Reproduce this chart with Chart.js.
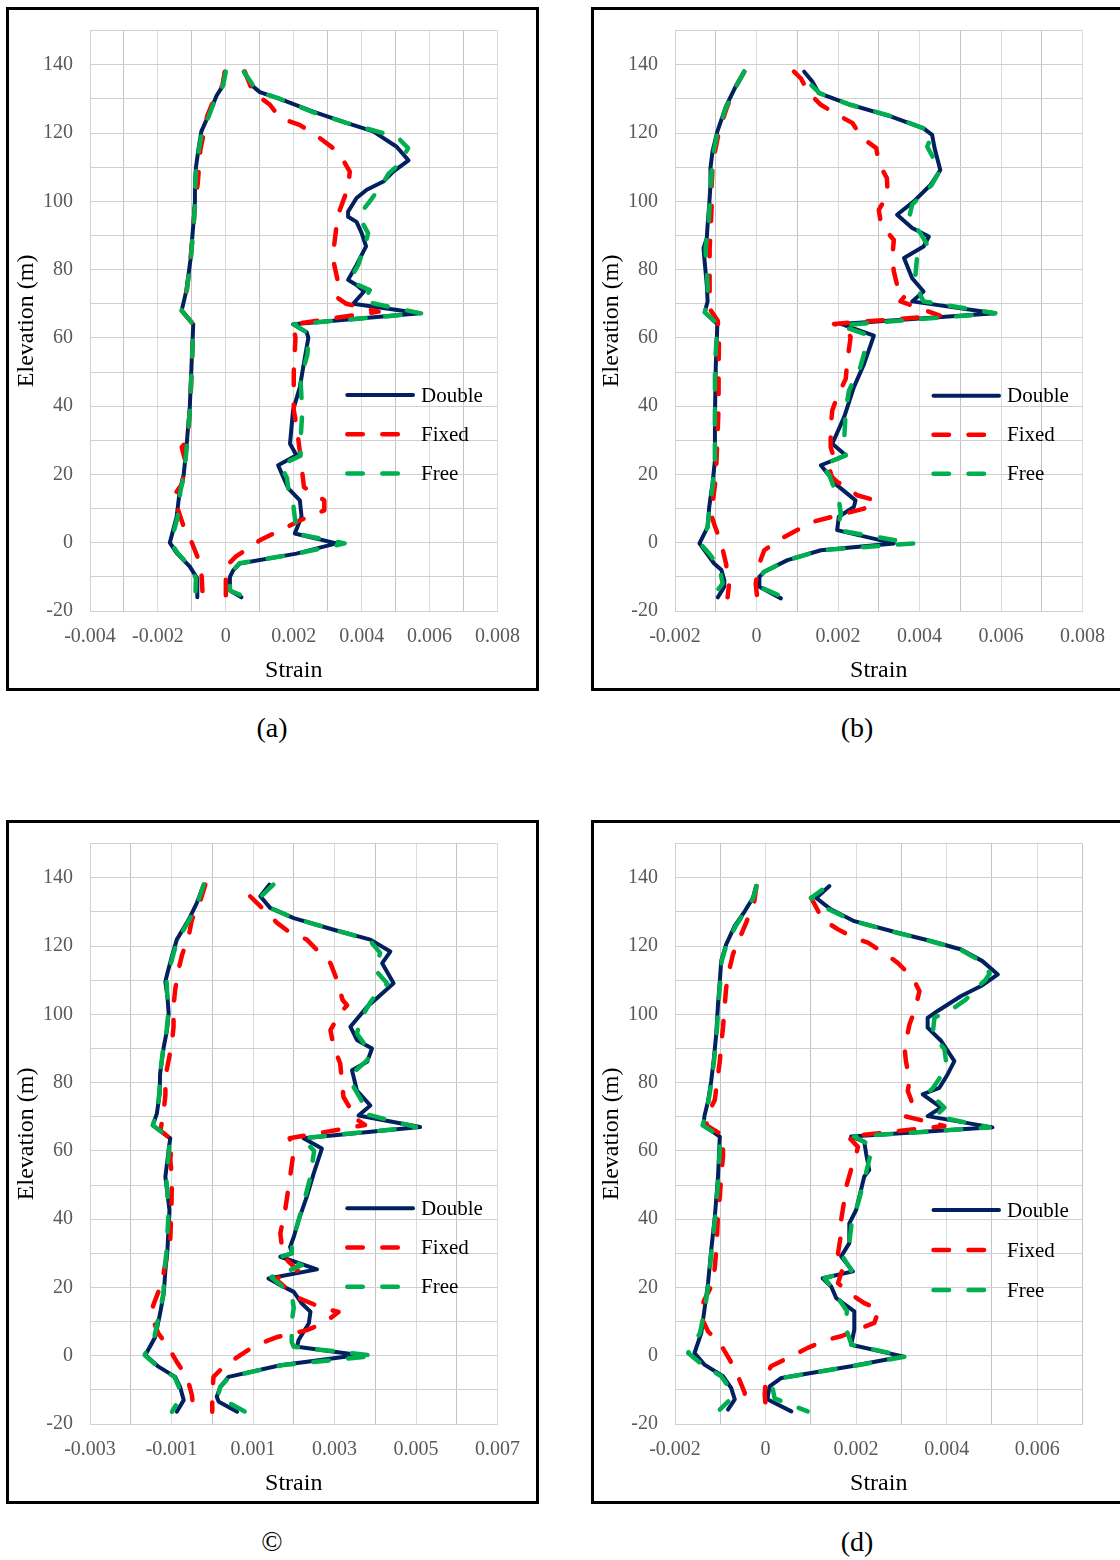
<!DOCTYPE html>
<html>
<head>
<meta charset="utf-8">
<title>Strain profiles</title>
<script src="https://cdn.jsdelivr.net/npm/chart.js@4.4.1/dist/chart.umd.min.js"></script>
<style>
  html, body { margin: 0; padding: 0; background: #fff; }
  body { width: 1120px; height: 1560px; position: relative; overflow: hidden;
         font-family: "Liberation Serif", "Times New Roman", serif; }
  .frame { position: absolute; border: 3px solid #000; width: 527px; height: 678px; background: #fff; }
  .frame canvas { display: block; }
  .cap { position: absolute; width: 120px; margin-left: -60px; text-align: center;
         font-size: 28px; line-height: 28px; color: #000; }
</style>
</head>
<body>
<div class="frame" style="left:6px;top:7px"><canvas id="pa" width="527" height="678"></canvas></div>
<div class="frame" style="left:591px;top:7px"><canvas id="pb" width="527" height="678"></canvas></div>
<div class="frame" style="left:6px;top:820px"><canvas id="pc" width="527" height="678"></canvas></div>
<div class="frame" style="left:591px;top:820px"><canvas id="pd" width="527" height="678"></canvas></div>
<div class="cap" style="left:272px;top:714px">(a)</div>
<div class="cap" style="left:857px;top:714px">(b)</div>
<div class="cap" style="left:272px;top:1528px">©</div>
<div class="cap" style="left:857px;top:1528px">(d)</div>

<script>
// ---- series and tick labels -------------------------------------------
const SERIES_NAMES = ['Double', 'Fixed', 'Free'];
const Y_TICK_LABELS = ['-20', '0', '20', '40', '60', '80', '100', '120', '140'];
const X_TICK_LABELS_A = ['-0.004', '-0.002', '0', '0.002', '0.004', '0.006', '0.008'];
const X_TICK_LABELS_B = ['-0.002', '0', '0.002', '0.004', '0.006', '0.008'];
const X_TICK_LABELS_C = ['-0.003', '-0.001', '0.001', '0.003', '0.005', '0.007'];
const X_TICK_LABELS_D = ['-0.002', '0', '0.002', '0.004', '0.006'];

// Strain envelopes: each entry is [elevation (m), strain x 10^-3].
// "L" = compressive (left) envelope, "R" = tensile (right) envelope.

// (a)
const aDoubleL = [[138,-0.03],[134,-0.08],[131,-0.27],[125,-0.52],[120.5,-0.72],[115,-0.81],[110,-0.88],[105,-0.91],[100,-0.91],[93,-0.96],[83,-1.04],[74,-1.16],[68,-1.30],[64,-0.96],[52,-1.01],[40,-1.06],[28,-1.16],[20,-1.24],[15,-1.36],[7.5,-1.45],[0,-1.65],[-3,-1.45],[-7,-1.06],[-10.5,-0.84],[-16,-0.84]];
const aDoubleR = [[138,0.53],[134,0.76],[132,1.0],[130,1.59],[126.3,2.57],[123,3.55],[120.5,4.34],[116,5.03],[112,5.38],[108.7,4.93],[105.8,4.64],[103.4,4.15],[101,3.85],[97,3.6],[95.5,3.6],[94,3.85],[90.7,4.0],[86.8,4.13],[81.4,3.85],[77,3.6],[75.5,3.85],[73.6,4.07],[70,3.75],[67.2,5.72],[64,1.98],[61.7,2.38],[60,2.43],[51.5,2.28],[45.6,2.18],[38.8,1.98],[29,1.89],[25.6,2.08],[22.7,1.54],[19.3,1.69],[15.9,1.84],[12.4,2.18],[7.6,2.23],[2.7,2.03],[-0.2,3.26],[-3.2,2.08],[-6.1,0.41],[-8,0.22],[-10,0.12],[-14,0.12],[-16,0.46]];
const aFixedL = [[138,-0.03],[134,-0.1],[131,-0.3],[125,-0.55],[120,-0.65],[115,-0.75],[110,-0.79],[105,-0.83],[100,-0.9],[93,-0.95],[83,-1.04],[74,-1.15],[68,-1.3],[64,-0.96],[52,-1.0],[40,-1.05],[30,-1.12],[28,-1.3],[23,-1.17],[17,-1.3],[14,-1.52],[10,-1.42],[5,-1.25],[0,-1.0],[-5,-0.8],[-10,-0.71],[-16,-0.68]];
const aFixedR = [[138,0.56],[132,0.8],[128.3,1.3],[124.4,1.6],[122.4,2.17],[120,2.57],[115.6,3.16],[113,3.4],[108.7,3.65],[104,3.6],[96,3.3],[88,3.2],[83.4,3.15],[76.5,3.3],[71.7,3.3],[70,3.55],[67.7,4.5],[64,1.98],[60,2.05],[50,2.0],[39,2.0],[33,2.1],[25,2.2],[16.3,2.3],[12.4,2.9],[9.5,2.9],[6.6,2.2],[0.7,1.0],[-4,0.3],[-7,0.0],[-16,0.0]];
const aFreeL = [[138,0.0],[134,-0.08],[131,-0.27],[125,-0.5],[120.5,-0.7],[115,-0.8],[110,-0.87],[105,-0.9],[100,-0.9],[93,-0.95],[83,-1.03],[74,-1.15],[68,-1.3],[64,-0.96],[52,-1.0],[40,-1.05],[28,-1.15],[20,-1.23],[15,-1.34],[7.5,-1.42],[0,-1.62],[-3,-1.42],[-7,-1.05],[-10.5,-0.88],[-16,-0.9]];
const aFreeR = [[138,0.53],[134,0.8],[132,1.0],[130,1.6],[126,2.6],[123,3.55],[120.5,4.45],[119,5.03],[115.6,5.37],[110.7,5.08],[108.2,4.8],[104.8,4.59],[100,4.24],[97,4.0],[95,3.95],[90.7,4.19],[87,4.1],[81.4,3.9],[77,3.65],[75.5,3.9],[74,4.24],[70.7,4.05],[67.2,5.75],[64,2.0],[61.2,2.45],[55,2.4],[48,2.2],[38,2.25],[30,2.2],[25.5,2.2],[22.7,1.6],[19,1.8],[15,1.85],[11.5,1.98],[6,2.05],[2.7,2.05],[-0.2,3.5],[-3.2,2.1],[-6,0.4],[-8,0.22],[-10,0.12],[-14,0.12],[-16,0.6]];

// (b)
const bDoubleL = [[138,-0.3],[133.7,-0.51],[127.8,-0.75],[120.5,-0.96],[114.6,-1.08],[109.7,-1.13],[104.8,-1.13],[99,-1.16],[93.1,-1.2],[89.2,-1.22],[86.3,-1.3],[83.4,-1.28],[75.6,-1.22],[70.7,-1.2],[67.5,-1.27],[64.1,-0.96],[51.5,-1.0],[36.8,-1.02],[24.1,-1.02],[17.3,-1.08],[10.5,-1.16],[4.6,-1.2],[-0.2,-1.4],[-6.1,-1.04],[-8,-0.86],[-11,-0.79],[-12.9,-0.79],[-16,-0.95]];
const bDoubleR = [[138,1.17],[135.1,1.37],[131.7,1.53],[128.3,2.31],[124.9,3.29],[121.4,4.1],[119.5,4.31],[115.6,4.37],[109.2,4.51],[104.8,4.27],[100,3.86],[96.1,3.45],[92.2,3.82],[89.7,4.23],[86.8,4.1],[83.4,3.62],[77.5,3.82],[73.6,4.1],[70.7,3.82],[67.2,5.86],[64.1,2.07],[60.7,2.88],[52.4,2.64],[45.6,2.39],[36.8,2.15],[29,1.86],[25.6,2.19],[22.7,1.58],[16.8,1.98],[12.4,2.43],[10.5,2.39],[7.6,2.02],[3.7,1.98],[-0.2,3.37],[-2.2,1.58],[-5.1,0.76],[-8.5,0.19],[-10,0.07],[-12.9,0.07],[-16.3,0.6]];
const bFixedL = [[138,-0.3],[133.7,-0.5],[127.8,-0.72],[120.5,-0.92],[114.6,-1.02],[109.7,-1.08],[104.8,-1.1],[99,-1.1],[93.1,-1.12],[86,-1.15],[80,-1.15],[72,-1.15],[68,-1.12],[65,-0.95],[60,-0.92],[50,-0.93],[40,-0.93],[30,-0.96],[19,-1.0],[14,-1.05],[8.5,-1.12],[5.5,-1.04],[0,-0.87],[-6,-0.75],[-12,-0.67],[-16,-0.71]];
const bFixedR = [[138,0.92],[136,1.09],[131.7,1.29],[128.3,1.58],[125.4,1.98],[123,2.35],[118.5,2.6],[115.6,2.94],[111.2,3.0],[106.8,3.2],[101.9,3.22],[97.5,3.0],[93.1,3.06],[88.7,3.37],[83.4,3.33],[79.5,3.37],[75.5,3.45],[73.1,3.7],[70.7,3.53],[69.2,3.9],[66.5,4.5],[64.1,1.9],[62.7,2.19],[60.2,2.31],[53.4,2.23],[48,2.19],[42.7,1.98],[38.8,1.86],[33.9,1.82],[28,1.82],[25,1.9],[21.2,1.8],[19.3,1.85],[17.8,1.98],[16.8,2.15],[13.9,2.47],[12.4,2.92],[10,2.64],[6.1,1.37],[3.7,1.0],[1.2,0.6],[-2.2,0.19],[-6.1,0.07],[-12,-0.02],[-16.3,0.02]];
const bFreeL = [[138,-0.3],[133.7,-0.5],[127.8,-0.74],[120.5,-0.95],[114.6,-1.05],[109.7,-1.1],[104.8,-1.12],[99,-1.15],[93.1,-1.18],[89.2,-1.22],[86.3,-1.25],[83.4,-1.24],[75.6,-1.2],[70.7,-1.2],[67.5,-1.27],[64.1,-0.96],[51.5,-1.02],[36.8,-1.02],[24.1,-1.02],[17.3,-1.07],[10.5,-1.15],[4.6,-1.2],[-0.2,-1.38],[-3.2,-1.16],[-7.1,-0.91],[-12,-0.83],[-16.3,-1.12]];
const bFreeR = [[134,1.35],[131.7,1.55],[128.3,2.3],[125,3.3],[121.4,4.1],[119.5,4.3],[116,4.19],[111.6,4.39],[109,4.5],[104.8,4.3],[99,3.82],[95,3.74],[90.7,4.02],[87.3,4.19],[83.6,3.94],[78.5,3.9],[72.6,4.02],[70.7,4.1],[67.2,5.86],[63.7,2.07],[62.7,2.27],[61.2,2.64],[55.4,2.64],[51.5,2.55],[44.6,2.27],[38.8,2.19],[30,2.15],[25.6,2.19],[22.7,1.6],[20,1.78],[12.4,2.02],[8.5,2.07],[3.7,1.98],[-0.2,3.86],[-2.2,1.6],[-5.1,0.76],[-8.5,0.19],[-10,0.07],[-12.9,0.07],[-16.3,0.72]];

// (c)
const cDoubleL = [[138,-0.21],[132.6,-0.38],[127.7,-0.58],[121.9,-0.87],[117,-0.99],[112.1,-1.1],[109.6,-1.15],[105.2,-1.1],[100.3,-1.07],[95.4,-1.11],[90.5,-1.19],[82.6,-1.28],[76.8,-1.29],[70.9,-1.36],[67.5,-1.46],[63.7,-1.03],[61.2,-1.06],[52.4,-1.15],[42.7,-1.05],[30.9,-1.1],[25,-1.15],[18.2,-1.19],[12.4,-1.28],[5.5,-1.4],[0.2,-1.64],[-3.2,-1.32],[-6.2,-0.91],[-9.1,-0.79],[-13,-0.7],[-16.4,-0.87]];
const cDoubleR = [[138,1.4],[134.6,1.18],[131.2,1.42],[128.2,2.0],[124.8,2.98],[121.9,3.88],[118.4,4.37],[115,4.17],[109.1,4.45],[104.7,4.04],[102.2,3.8],[96.4,3.39],[92.5,3.55],[90,3.92],[86.1,3.8],[83.6,3.43],[77.7,3.55],[73.3,3.88],[70.4,3.59],[67,5.1],[63.7,2.24],[60.7,2.69],[53.4,2.49],[46.6,2.32],[39.7,2.12],[34.8,2.0],[31.9,1.91],[30,1.96],[29,1.67],[25.3,2.57],[22.6,1.38],[21.2,1.59],[18.7,2.0],[15.3,2.2],[12.9,2.41],[9.5,2.37],[4.6,2.12],[2.6,2.08],[0.2,3.59],[-2.8,1.67],[-6.2,0.4],[-9.1,0.2],[-12,0.11],[-13.5,0.16],[-16.4,0.61]];
const cFixedL = [[138,-0.17],[133,-0.3],[127.7,-0.5],[122.8,-0.58],[117.5,-0.74],[113,-0.83],[107.2,-0.91],[102.3,-0.95],[96.4,-0.95],[91.5,-0.99],[86.6,-1.07],[81.7,-1.15],[76.3,-1.15],[70.9,-1.2],[66,-1.27],[63.2,-0.99],[57.3,-1.03],[52.4,-0.99],[44,-1.0],[34,-1.03],[27,-1.15],[21.2,-1.24],[16.3,-1.4],[12.4,-1.52],[6.5,-1.32],[3.1,-1.11],[-1.8,-0.87],[-6.2,-0.62],[-11.5,-0.5],[-16,-0.46]];
const cFixedR = [[134.6,0.93],[131.2,1.22],[126.8,1.59],[124.3,1.87],[121.9,2.32],[118.4,2.61],[115,2.9],[110.1,3.06],[104.2,3.2],[102.7,3.31],[100.5,3.15],[95.4,2.9],[90.5,2.98],[85.6,3.14],[80.7,3.18],[75.8,3.22],[72.4,3.39],[70.4,3.39],[67.6,3.75],[63.7,1.9],[60,2.0],[52.4,1.91],[42.7,1.79],[35.8,1.67],[31.9,1.71],[29,1.75],[25,2.1],[22.5,1.55],[20,1.8],[17,2.1],[14,2.7],[12.8,3.1],[9.5,2.73],[7.5,2.32],[5.5,1.6],[3,1.06],[0.2,0.69],[-3.2,0.28],[-6.2,0.03],[-11.5,0.0],[-16.4,0.0]];
const cFreeL = [[138,-0.21],[132.6,-0.36],[127.7,-0.56],[121.9,-0.85],[117,-0.97],[112.1,-1.08],[109.6,-1.12],[105.2,-1.1],[100.3,-1.08],[95.4,-1.12],[90.5,-1.2],[82.6,-1.28],[76.8,-1.3],[70.9,-1.36],[67.5,-1.46],[63.7,-1.03],[52.4,-1.13],[42.7,-1.07],[30.9,-1.12],[25,-1.17],[18.2,-1.2],[12.4,-1.3],[5.5,-1.42],[0.2,-1.66],[-3.2,-1.34],[-6.2,-0.93],[-9.1,-0.82],[-12.5,-0.79],[-16.4,-0.99]];
const cFreeR = [[138,1.5],[134.6,1.2],[131.2,1.42],[128.2,2.0],[124.8,2.98],[121.9,3.85],[118,4.12],[113,4.0],[109,4.3],[106.8,4.08],[103.5,3.88],[99.3,3.67],[94.4,3.55],[91,3.75],[88,3.9],[86,3.75],[82.6,3.43],[78.7,3.47],[74,3.7],[71,3.7],[67,5.0],[63.7,2.2],[60,2.5],[52,2.4],[45,2.25],[39,2.1],[33,1.96],[30,1.95],[29,1.7],[26.5,2.2],[23,1.45],[21,1.65],[18,1.95],[14,2.0],[10,1.95],[4,1.95],[2.6,2.0],[0,4.0],[-2.8,1.7],[-6.2,0.42],[-9.1,0.2],[-12,0.13],[-16.4,0.81]];

// (d)
const dDoubleL = [[137.6,-0.21],[134.1,-0.28],[130.2,-0.46],[125.9,-0.68],[120.5,-0.87],[115.6,-0.98],[109.8,-1.01],[102.9,-1.05],[94.1,-1.09],[87.3,-1.14],[80.5,-1.2],[74.6,-1.27],[70.2,-1.35],[67.5,-1.37],[64.2,-1.01],[52.5,-1.05],[40.8,-1.12],[31,-1.2],[21.3,-1.27],[13.5,-1.35],[6.6,-1.42],[0.8,-1.57],[-2.6,-1.35],[-6,-0.94],[-9.4,-0.76],[-12.8,-0.68],[-15.8,-0.83]];
const dDoubleR = [[137.6,1.41],[134.1,1.12],[130.7,1.45],[127.3,1.96],[123.9,2.92],[121.5,3.65],[119,4.32],[115.6,4.79],[111.7,5.13],[108.3,4.76],[105.4,4.32],[101,3.8],[99,3.58],[96.1,3.58],[92.2,3.88],[86.3,4.17],[82.4,4.02],[78.5,3.84],[76.6,3.47],[72.7,3.88],[70.2,3.58],[66.9,5.01],[64.2,1.89],[62.7,2.18],[59.3,2.22],[54.4,2.29],[52.5,2.18],[42.7,2.0],[38.8,1.85],[33,1.85],[29.1,1.67],[24.7,1.93],[22.7,1.26],[20.3,1.45],[16.9,1.56],[13,1.96],[7.6,1.96],[3.2,1.89],[-0.2,3.03],[-3.1,1.89],[-6.5,0.35],[-9,0.09],[-11.9,0.05],[-12.8,0.05],[-16.3,0.57]];
const dFixedL = [[137.6,-0.2],[133,-0.25],[126.8,-0.43],[122.4,-0.57],[117.6,-0.72],[113.7,-0.79],[107.8,-0.87],[102.9,-0.9],[96.1,-0.94],[91.2,-0.98],[86.3,-1.01],[82.4,-1.05],[75,-1.12],[70,-1.3],[67.5,-1.3],[64.5,-0.94],[58.3,-0.94],[52.5,-0.98],[46.6,-1.01],[41.7,-1.05],[32,-1.08],[26.1,-1.12],[21.3,-1.16],[16.4,-1.35],[12.5,-1.46],[7.1,-1.27],[3.7,-1.01],[-1.2,-0.79],[-6,-0.61],[-10.9,-0.46],[-15.8,-0.5]];
const dFixedR = [[134.1,1.01],[127.8,1.26],[124.9,1.6],[122.4,1.96],[121,2.26],[117.6,2.66],[115.1,2.92],[110.7,3.25],[106.8,3.4],[101,3.29],[97.1,3.18],[90.2,3.07],[86.3,3.1],[80.5,3.18],[77.6,3.14],[73.7,3.25],[70.2,3.07],[68.3,3.65],[67.3,3.95],[64.2,1.82],[61.2,2.04],[58.8,2.0],[56.4,1.93],[49.5,1.78],[45.6,1.74],[39.8,1.67],[35.9,1.67],[30,1.6],[27,1.74],[21.3,1.6],[18.8,1.8],[15.4,2.18],[13.5,2.51],[9.6,2.4],[8.1,2.11],[5.7,1.67],[4.7,1.37],[2.3,0.93],[0.3,0.64],[-3.1,0.12],[-6,0.01],[-11.4,-0.02],[-15.8,0.01]];
const dFreeL = [[137.6,-0.2],[134.1,-0.27],[130.2,-0.45],[125.9,-0.66],[120.5,-0.86],[115.6,-0.97],[109.8,-1.0],[102.9,-1.04],[94.1,-1.08],[87.3,-1.13],[80.5,-1.19],[74.6,-1.26],[70.2,-1.33],[67.5,-1.39],[64.2,-1.0],[52.5,-1.04],[40.8,-1.11],[31,-1.19],[21.3,-1.26],[13.5,-1.34],[6.6,-1.45],[0.8,-1.71],[-2.6,-1.4],[-6,-0.98],[-9.4,-0.8],[-12.8,-0.78],[-15.8,-1.01]];
const dFreeR = [[136.5,1.25],[134.1,1.0],[130.7,1.4],[127.3,1.95],[123.9,2.9],[121.5,3.63],[119,4.3],[115.6,4.75],[112,4.95],[110,4.85],[107,4.6],[104.4,4.43],[102,4.17],[99,3.73],[94.1,3.69],[89.8,3.95],[85.9,3.99],[82.4,3.9],[78.5,3.7],[76.6,3.55],[74.6,3.8],[72.7,3.95],[70.2,3.75],[66.9,4.95],[64.2,1.95],[61.5,2.35],[58,2.3],[52.5,2.2],[45,2.05],[38.8,1.9],[33,1.85],[29.1,1.7],[25,1.9],[22.7,1.3],[20.3,1.45],[16.9,1.6],[13,1.8],[9,1.75],[3.2,1.9],[-0.2,3.1],[-3.1,1.9],[-6.5,0.37],[-9,0.15],[-12.5,0.2],[-16.3,0.93]];

// ---- drawing ------------------------------------------------------------
const SERIF = '"Liberation Serif", "Times New Roman", serif';
Chart.defaults.font.family = SERIF;

const STYLE = {
  Double: { color: '#002060', width: 4,   dash: [],           order: 3 },
  Fixed:  { color: '#ff0000', width: 4.5, dash: [15.5, 19.5], order: 2 },
  Free:   { color: '#00b050', width: 4.5, dash: [15.5, 19.5], order: 1 }
};

const toPoints = pairs => pairs.map(([elev, ms]) => ({ x: ms / 1000, y: elev }));

// Series key drawn inside the plot, one row per series.
const seriesKey = {
  id: 'seriesKey',
  afterDraw(chart, args, opts) {
    const ctx = chart.ctx;
    ctx.save();
    SERIES_NAMES.forEach((name, i) => {
      const ds = chart.data.datasets.find(d => d.label === name && d.keyEntry);
      const y = opts.y0 + i * opts.gap;
      ctx.strokeStyle = ds.borderColor;
      ctx.lineWidth = ds.borderWidth;
      ctx.lineCap = 'round';
      ctx.setLineDash(ds.borderDash);
      ctx.beginPath();
      ctx.moveTo(opts.x0, y);
      ctx.lineTo(opts.x1, y);
      ctx.stroke();
      ctx.setLineDash([]);
      ctx.fillStyle = '#000';
      ctx.font = '21px ' + SERIF;
      ctx.textBaseline = 'middle';
      ctx.textAlign = 'left';
      ctx.fillText(name, opts.x1 + 8, y + 1);
    });
    ctx.restore();
  }
};

function buildPanel(id, xMin, xMax, xLabels, profiles, key) {
  const datasets = [];
  SERIES_NAMES.forEach(name => {
    const st = STYLE[name];
    profiles[name].forEach((branch, bi) => {
      datasets.push({
        label: name,
        keyEntry: bi === 0,
        data: toPoints(branch),
        showLine: true,
        borderColor: st.color,
        backgroundColor: st.color,
        borderWidth: st.width,
        borderDash: st.dash,
        borderCapStyle: 'round',
        borderJoinStyle: 'round',
        pointRadius: 0,
        pointHoverRadius: 0,
        tension: 0,
        fill: false,
        order: st.order
      });
    });
  });

  const xLabelFor = v => {
    const r = Math.round(v * 1e6) / 1e6;
    const hit = xLabels.find(l => Number(l) === r);
    return hit === undefined ? '' : hit;
  };
  const yLabelFor = v => {
    const hit = Y_TICK_LABELS.find(l => Number(l) === Math.round(v));
    return hit === undefined ? '' : hit;
  };

  new Chart(document.getElementById(id), {
    type: 'scatter',
    data: { datasets },
    plugins: [seriesKey],
    options: {
      responsive: false,
      animation: false,
      devicePixelRatio: 1,
      events: [],
      layout: { padding: { left: 0, right: 38.5, top: 20.7, bottom: 0 } },
      plugins: {
        legend: { display: false },
        tooltip: { enabled: false },
        seriesKey: key
      },
      scales: {
        x: {
          type: 'linear',
          min: xMin,
          max: xMax,
          afterFit: s => { s.height = 77; s.paddingLeft = 0; s.paddingRight = 0; },
          border: { color: '#d0d0d0', width: 1 },
          grid: {
            drawTicks: false,
            lineWidth: 1,
            color: c => (c.tick && xLabelFor(c.tick.value) === '') ? '#c4c4c4' : '#dcdcdc'
          },
          ticks: {
            stepSize: 0.001,
            autoSkip: false,
            maxRotation: 0,
            padding: 13.5,
            color: '#595959',
            font: { size: 20, family: SERIF },
            callback: v => xLabelFor(v)
          },
          title: {
            display: true,
            text: 'Strain',
            color: '#000',
            font: { size: 24, family: SERIF },
            padding: { top: 0, bottom: 2.6 }
          }
        },
        y: {
          type: 'linear',
          min: -20,
          max: 150,
          afterFit: s => { s.width = 81; s.paddingTop = 0; s.paddingBottom = 0; },
          border: { color: '#d0d0d0', width: 1 },
          grid: { drawTicks: false, lineWidth: 1, color: '#d0d0d0' },
          ticks: {
            stepSize: 10,
            autoSkip: false,
            padding: 17,
            color: '#595959',
            font: { size: 20, family: SERIF },
            callback: v => yLabelFor(v)
          },
          title: {
            display: true,
            text: 'Elevation (m)',
            color: '#000',
            font: { size: 24, family: SERIF },
            padding: { top: 3.6, bottom: 0 }
          }
        }
      }
    }
  });
}

buildPanel('pa', -0.004, 0.008, X_TICK_LABELS_A,
  { Double: [aDoubleL, aDoubleR], Fixed: [aFixedL, aFixedR], Free: [aFreeL, aFreeR] },
  { x0: 338.3, x1: 404, y0: 385, gap: 39.3 });
buildPanel('pb', -0.002, 0.008, X_TICK_LABELS_B,
  { Double: [bDoubleL, bDoubleR], Fixed: [bFixedL, bFixedR], Free: [bFreeL, bFreeR] },
  { x0: 339.5, x1: 405, y0: 385.7, gap: 39 });
buildPanel('pc', -0.003, 0.007, X_TICK_LABELS_C,
  { Double: [cDoubleL, cDoubleR], Fixed: [cFixedL, cFixedR], Free: [cFreeL, cFreeR] },
  { x0: 338.3, x1: 404, y0: 385.3, gap: 39.2 });
buildPanel('pd', -0.002, 0.007, X_TICK_LABELS_D,
  { Double: [dDoubleL, dDoubleR], Fixed: [dFixedL, dFixedR], Free: [dFreeL, dFreeR] },
  { x0: 339.5, x1: 405, y0: 387, gap: 40 });
</script>
</body>
</html>
